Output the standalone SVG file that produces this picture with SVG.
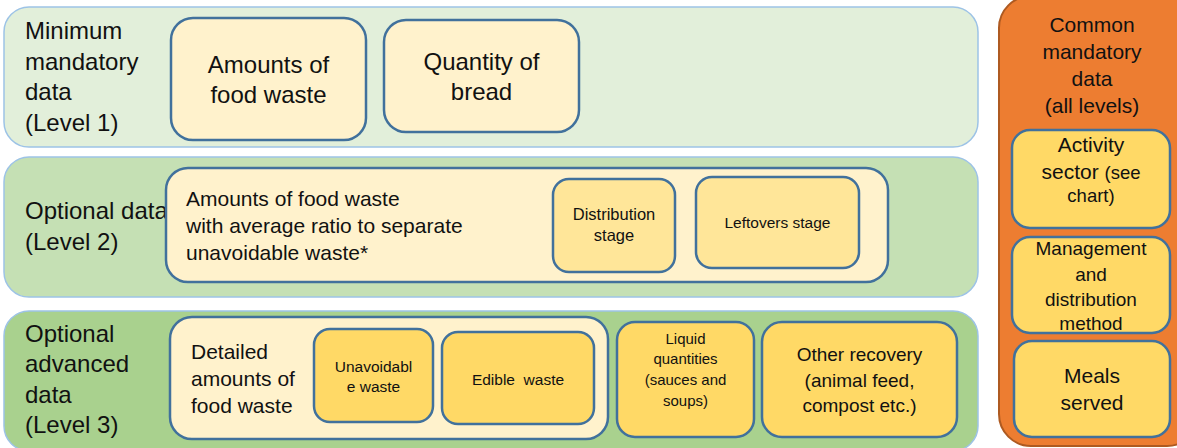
<svg xmlns="http://www.w3.org/2000/svg" width="1177" height="448" viewBox="0 0 1177 448">
  <style>
    text { font-family: "Liberation Sans", Arial, sans-serif; fill: #111; }
    .panel { stroke: #9DC3E6; stroke-width: 1.5; }
    .p1 { fill: #E2EFDA; }
    .p2 { fill: #C5E0B4; }
    .p3 { fill: #A9D18E; }
    .box { stroke: #41719C; stroke-width: 2.5; }
    .light { fill: #FFF2CC; }
    .mid { fill: #FFE699; }
    .dark { fill: #FFD966; }
    .lbl { font-size: 24px; }
    .big { font-size: 24px; text-anchor: middle; }
    .body { font-size: 21px; }
    .sm { font-size: 15.5px; text-anchor: middle; }
    .xs { font-size: 15px; text-anchor: middle; }
    .dist { font-size: 16.5px; text-anchor: middle; }
    .md { font-size: 19px; text-anchor: middle; }
    .side { font-size: 21px; text-anchor: middle; }
    .side-s { font-size: 19px; text-anchor: middle; }
  </style>

  <!-- Level 1 -->
  <g id="level1">
    <rect class="panel p1" x="4" y="7" width="974" height="140" rx="25"/>
    <text class="lbl" x="25" y="39">Minimum</text>
    <text class="lbl" x="25" y="70">mandatory</text>
    <text class="lbl" x="25" y="100">data</text>
    <text class="lbl" x="25" y="131">(Level 1)</text>
  </g>
  <g id="amounts-food-waste">
    <rect class="box light" x="171" y="18" width="195" height="122" rx="22"/>
    <text class="big" x="268.5" y="73">Amounts of</text>
    <text class="big" x="268.5" y="103">food waste</text>
  </g>
  <g id="quantity-bread">
    <rect class="box light" x="384" y="20" width="195" height="112" rx="22"/>
    <text class="big" x="481.5" y="70">Quantity of</text>
    <text class="big" x="481.5" y="100">bread</text>
  </g>

  <!-- Level 2 -->
  <g id="level2">
    <rect class="panel p2" x="4" y="157" width="974" height="140" rx="25"/>
    <text class="lbl" x="25" y="219">Optional data</text>
    <text class="lbl" x="25" y="250">(Level 2)</text>
  </g>
  <g id="ratio-amounts">
    <rect class="box light" x="166" y="168" width="722" height="114" rx="22"/>
    <text class="body" x="186" y="206">Amounts of food waste</text>
    <text class="body" x="186" y="233">with average ratio to separate</text>
    <text class="body" x="186" y="260">unavoidable waste*</text>
  </g>
  <g id="distribution-stage">
    <rect class="box mid" x="553" y="179" width="122" height="93" rx="16"/>
    <text class="dist" x="614" y="220">Distribution</text>
    <text class="dist" x="614" y="241">stage</text>
  </g>
  <g id="leftovers-stage">
    <rect class="box mid" x="696" y="177" width="163" height="91" rx="16"/>
    <text class="sm" x="777.5" y="228">Leftovers stage</text>
  </g>

  <!-- Level 3 -->
  <g id="level3">
    <rect class="panel p3" x="4" y="311" width="974" height="140" rx="25"/>
    <text class="lbl" x="25" y="342">Optional</text>
    <text class="lbl" x="25" y="372">advanced</text>
    <text class="lbl" x="25" y="403">data</text>
    <text class="lbl" x="25" y="433">(Level 3)</text>
  </g>
  <g id="detailed-amounts">
    <rect class="box light" x="170" y="317" width="438" height="122" rx="22"/>
    <text class="body" x="191" y="359">Detailed</text>
    <text class="body" x="191" y="386">amounts of</text>
    <text class="body" x="191" y="413">food waste</text>
  </g>
  <g id="unavoidable-waste">
    <rect class="box dark" x="314" y="329" width="119" height="93" rx="16"/>
    <text class="sm" x="373.5" y="372">Unavoidabl</text>
    <text class="sm" x="373.5" y="392">e waste</text>
  </g>
  <g id="edible-waste">
    <rect class="box dark" x="442" y="332" width="152" height="92" rx="16"/>
    <text class="sm" x="518" y="385" xml:space="preserve">Edible  waste</text>
  </g>
  <g id="liquid-quantities">
    <rect class="box dark" x="617" y="322" width="137" height="115" rx="18"/>
    <text class="xs" x="685.5" y="344">Liquid</text>
    <text class="xs" x="685.5" y="364">quantities</text>
    <text class="xs" x="685.5" y="385">(sauces and</text>
    <text class="xs" x="685.5" y="406">soups)</text>
  </g>
  <g id="other-recovery">
    <rect class="box dark" x="762" y="322" width="195" height="115" rx="20"/>
    <text class="md" x="859.5" y="361">Other recovery</text>
    <text class="md" x="859.5" y="387">(animal feed,</text>
    <text class="md" x="859.5" y="412">compost etc.)</text>
  </g>

  <!-- Common data, all levels -->
  <g id="common">
    <rect x="999" y="-4" width="200" height="450" rx="32" fill="#ED7D31" stroke="#AE5A21" stroke-width="2"/>
    <text class="side" x="1092" y="32">Common</text>
    <text class="side" x="1092" y="59">mandatory</text>
    <text class="side" x="1092" y="86">data</text>
    <text class="side" x="1092" y="113">(all levels)</text>
  </g>
  <g id="activity-sector">
    <rect class="box dark" x="1012" y="130" width="158" height="98" rx="18"/>
    <text class="side" x="1091" y="152">Activity</text>
    <text class="side" x="1091" y="179">sector <tspan style="font-size:18.5px">(see</tspan></text>
    <text class="side" x="1091" y="202" style="font-size:18.5px">chart)</text>
  </g>
  <g id="management-method">
    <rect class="box dark" x="1012" y="237" width="158" height="96" rx="18"/>
    <text class="side-s" x="1091" y="255">Management</text>
    <text class="side-s" x="1091" y="281">and</text>
    <text class="side-s" x="1091" y="306">distribution</text>
    <text class="side-s" x="1091" y="330">method</text>
  </g>
  <g id="meals-served">
    <rect class="box dark" x="1014" y="341" width="156" height="96" rx="18"/>
    <text class="side" x="1092" y="383">Meals</text>
    <text class="side" x="1092" y="410">served</text>
  </g>

  <g id="connectors"/>
</svg>
